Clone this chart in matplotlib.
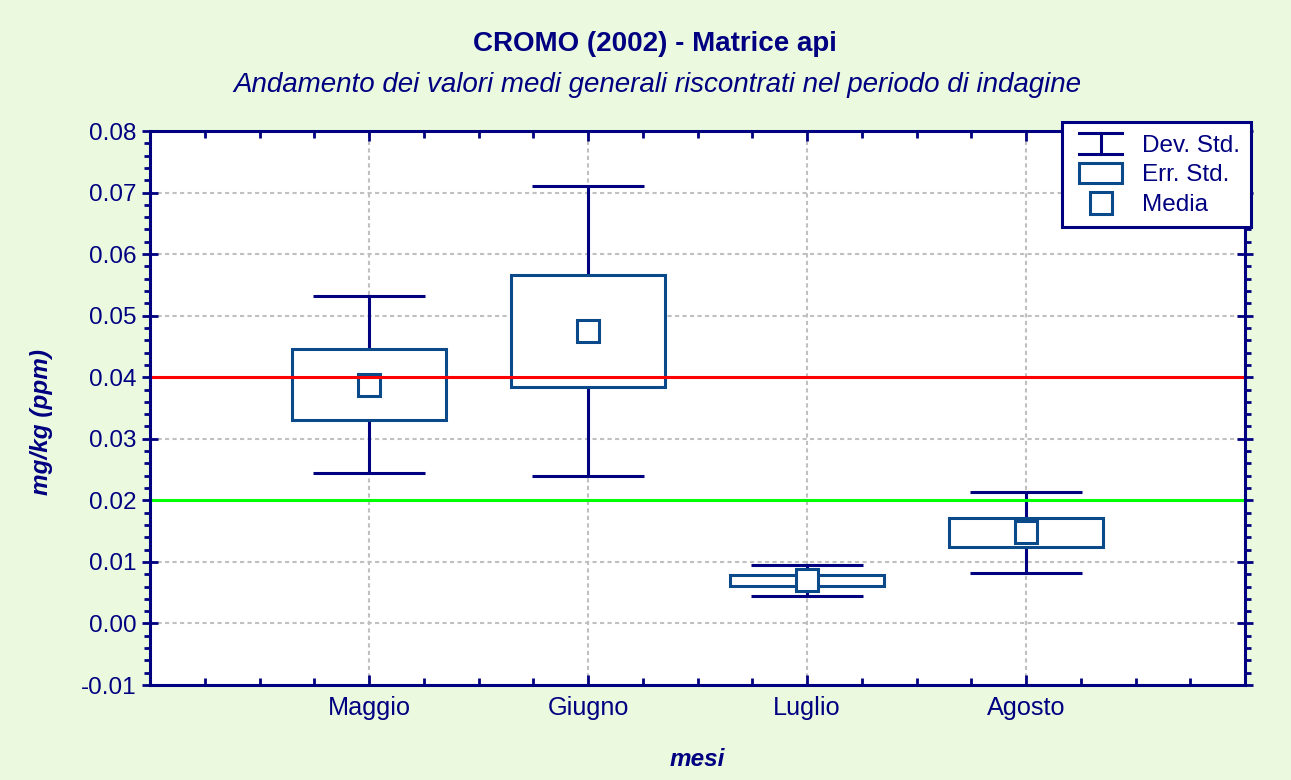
import numpy as np
import matplotlib
matplotlib.use('Agg')
import matplotlib.pyplot as plt
from matplotlib.legend_handler import HandlerBase
from matplotlib.lines import Line2D
from matplotlib.patches import Rectangle
from matplotlib.ticker import MultipleLocator, FuncFormatter

plt.rcParams['font.family'] = ['Liberation Sans', 'DejaVu Sans']

# ---- data ----
months = ['Maggio', 'Giugno', 'Luglio', 'Agosto']
means = [0.0388, 0.0475, 0.0070, 0.0148]
std_err = [0.0058, 0.0091, 0.0009, 0.0024]
std_dev = [0.0144, 0.0235, 0.0025, 0.0066]
limit_red = 0.04
limit_green = 0.02

title = 'CROMO (2002) - Matrice api'
subtitle = 'Andamento dei valori medi generali riscontrati nel periodo di indagine'
ylabel = 'mg/kg (ppm)'
xlabel = 'mesi'
legend_labels = ['Dev. Std.', 'Err. Std.', 'Media']

# ---- style ----
BG = '#EBFADF'
NAVY = '#000080'
BOX = '#0B4A8A'
LW = 2.2
FS = 17.5

W, H = 1291, 780
fig = plt.figure(figsize=(W / 100, H / 100), dpi=100, facecolor=BG)
ax = fig.add_axes([150 / W, 1 - 685 / H, (1245 - 150) / W, (685 - 131) / H])
ax.set_facecolor('white')

x = np.arange(1, len(months) + 1)
ax.errorbar(x, means, yerr=std_dev, fmt='none', ecolor=NAVY, elinewidth=LW,
            capsize=40, capthick=LW, zorder=2)
ax.bar(x, [2 * s for s in std_err], bottom=[m - s for m, s in zip(means, std_err)],
       width=0.70, facecolor='white', edgecolor=BOX, linewidth=LW, zorder=3)
ax.plot(x, means, 's', ms=15.5, mfc='white', mec=BOX, mew=LW, ls='none', zorder=4)
ax.axhline(limit_red, color='#FF0000', lw=LW, zorder=5)
ax.axhline(limit_green, color='#00FF00', lw=LW, zorder=5)

ax.set_xlim(0, len(months) + 1)
ax.set_ylim(-0.01, 0.08)
ax.set_xticks(x)
ax.set_xticklabels(months)
ax.xaxis.set_minor_locator(MultipleLocator(0.25))
ax.yaxis.set_major_locator(MultipleLocator(0.01))
ax.yaxis.set_minor_locator(MultipleLocator(0.002))


def yfmt(v, pos):
    s = f'{v:.2f}'
    return '0.00' if s == '-0.00' else s


ax.yaxis.set_major_formatter(FuncFormatter(yfmt))

ax.grid(True, which='major', color='#C0C0C0', linestyle=(0, (2, 1.6)), linewidth=1.5, zorder=1)
ax.set_axisbelow(True)

ax.tick_params(axis='x', which='both', direction='in', top=True, bottom=True,
               colors=NAVY, labelsize=18.2, width=2, pad=8)
ax.tick_params(axis='x', which='major', length=7)
ax.tick_params(axis='x', which='minor', length=5)
ax.tick_params(axis='y', which='major', direction='inout', length=11, width=2,
               left=True, right=True, colors=NAVY, labelsize=FS, pad=4)
ax.tick_params(axis='y', which='minor', direction='out', length=4, width=2,
               left=True, right=True, colors=NAVY)
for sp in ax.spines.values():
    sp.set_color(NAVY)
    sp.set_linewidth(LW)
    sp.set_zorder(6)

fig.text(655 / W, 1 - 44 / H, title, ha='center', va='center', fontsize=20,
         fontweight='bold', color=NAVY)
fig.text(657 / W, 1 - 85 / H, subtitle, ha='center', va='center', fontsize=20,
         style='italic', color=NAVY)
fig.text(42 / W, 1 - 422 / H, ylabel, ha='center', va='center', rotation=90,
         fontsize=FS, fontweight='bold', style='italic', color=NAVY)
fig.text(697 / W, 1 - 760 / H, xlabel, ha='center', va='center',
         fontsize=FS, fontweight='bold', style='italic', color=NAVY)

INSET = 0.11


class HandlerIBeam(HandlerBase):
    def create_artists(self, legend, orig_handle, xdescent, ydescent, width,
                       height, fontsize, trans):
        x0 = -xdescent + INSET * width
        x1 = -xdescent + width
        xm = (x0 + x1) / 2
        y0 = -ydescent
        y1 = y0 + height
        arts = [Line2D([x0, x1], [y1, y1]), Line2D([xm, xm], [y0, y1]),
                Line2D([x0, x1], [y0, y0])]
        for a in arts:
            a.set_color(NAVY)
            a.set_linewidth(LW)
            a.set_transform(trans)
        return arts


class HandlerBox(HandlerBase):
    def create_artists(self, legend, orig_handle, xdescent, ydescent, width,
                       height, fontsize, trans):
        x0 = -xdescent + INSET * width
        r = Rectangle((x0, -ydescent), width * (1 - INSET), height,
                      facecolor='white', edgecolor=BOX, linewidth=LW,
                      transform=trans)
        return [r]


class HandlerMark(HandlerBase):
    def create_artists(self, legend, orig_handle, xdescent, ydescent, width,
                       height, fontsize, trans):
        xc = -xdescent + width * (1 + INSET) / 2
        yc = -ydescent + height / 2
        m = Line2D([xc], [yc], marker='s', ls='none', ms=15.5, mfc='white',
                   mec=BOX, mew=LW, transform=trans)
        return [m]


h_sd = Line2D([], [])
h_se = Rectangle((0, 0), 1, 1)
h_mean = Line2D([], [], marker='s')
leg = ax.legend([h_sd, h_se, h_mean], legend_labels,
                handler_map={h_sd: HandlerIBeam(), h_se: HandlerBox(),
                             h_mean: HandlerMark()},
                loc='upper right', bbox_to_anchor=(1251 / W, 1 - 122 / H),
                bbox_transform=fig.transFigure, fontsize=FS, labelcolor=NAVY,
                frameon=True, fancybox=False, framealpha=1, edgecolor=NAVY,
                facecolor='white', handlelength=2.0, handleheight=0.9,
                handletextpad=0.8, labelspacing=0.25, borderpad=0.47,
                borderaxespad=0)
leg.get_frame().set_linewidth(LW)
leg.set_zorder(10)

fig.savefig('out.png', dpi=100, facecolor=BG)
